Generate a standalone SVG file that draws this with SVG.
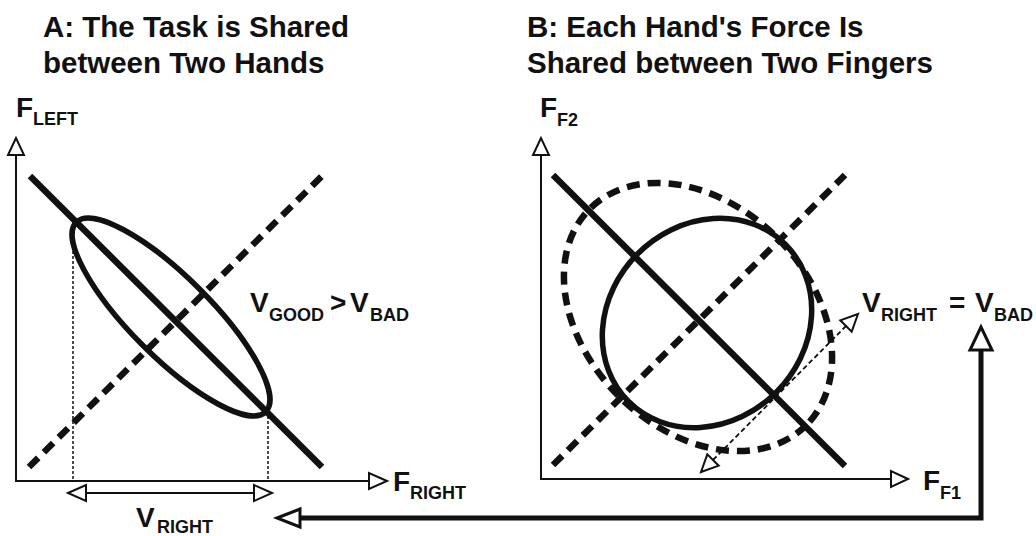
<svg xmlns="http://www.w3.org/2000/svg" width="1036" height="536" viewBox="0 0 1036 536">
<style>
text{font-family:"Liberation Sans",Arial,sans-serif;font-weight:bold;fill:#111}
.t{font-size:29.5px}
.b{font-size:28px}
.s{font-size:18px}
.ax{stroke:#111;stroke-width:2;fill:none}
.ah{fill:#fff;stroke:#111;stroke-width:2}
.sol{stroke:#111;stroke-width:6.5;fill:none}
.dsh{stroke:#111;stroke-width:6.5;fill:none;stroke-dasharray:13 8}
.ell{stroke:#111;stroke-width:5.5;fill:none}
.dot{stroke:#111;stroke-width:1.5;fill:none;stroke-dasharray:3 2}
.thin{stroke:#111;stroke-width:1.8;fill:none;stroke-dasharray:5 3}
.big{stroke:#111;stroke-width:5;fill:none}
.bh{fill:#fff;stroke:#111;stroke-width:3}
</style>
<rect width="1036" height="536" fill="#fff"/>
<g id="titles">
<text class="t" x="43" y="37">A: The Task is Shared</text>
<text class="t" x="43" y="73">between Two Hands</text>
<text class="t" x="527" y="37">B: Each Hand's Force Is</text>
<text class="t" x="527" y="73">Shared between Two Fingers</text>
</g>
<g id="panelA">
<path class="ax" d="M16 155 V481 H369"/>
<polygon class="ah" points="16,138 8,155 24,155"/>
<polygon class="ah" points="387,481 369,473 369,489"/>
<line class="sol" x1="30" y1="176" x2="322" y2="467"/>
<line class="dsh" x1="29" y1="467" x2="323" y2="175"/>
<ellipse class="ell" cx="171" cy="317" rx="134" ry="40" transform="rotate(45 171 317)"/>
<line class="dot" x1="73" y1="226" x2="73" y2="481"/>
<line class="dot" x1="268" y1="406" x2="268" y2="481"/>
<line class="ax" x1="84" y1="493" x2="255" y2="493" stroke-width="2.5"/>
<polygon class="ah" points="68,493 86,485 86,501"/>
<polygon class="ah" points="272,493 254,485 254,501"/>
<text class="b" x="16" y="117">F</text><text class="s" x="33" y="125">LEFT</text>
<text class="b" x="393" y="491">F</text><text class="s" x="410" y="499">RIGHT</text>
<text class="b" x="250" y="312">V</text><text class="s" x="269" y="321">GOOD</text>
<text class="b" x="330" y="312">&gt;</text>
<text class="b" x="350" y="312">V</text><text class="s" x="370" y="321">BAD</text>
<text class="b" x="136" y="527">V</text><text class="s" x="157" y="533">RIGHT</text>
</g>
<g id="panelB">
<path class="ax" d="M541 155 V479 H891"/>
<polygon class="ah" points="541,138 533,155 549,155"/>
<polygon class="ah" points="908,479 891,471 891,487"/>
<line class="sol" x1="553" y1="175" x2="845" y2="466"/>
<line class="dsh" x1="553" y1="465" x2="845" y2="175"/>
<ellipse class="ell" cx="707" cy="323" rx="111" ry="98" transform="rotate(-45 707 323)"/>
<ellipse class="dsh" cx="698" cy="317" rx="153" ry="112" transform="rotate(45 698 317)"/>
<line class="thin" x1="713" y1="460" x2="846" y2="326"/>
<polygon class="ah" points="701,472 707.3,454.3 718.7,465.7" stroke-width="1.8"/>
<polygon class="ah" points="858,314 840.3,320.3 851.7,331.7" stroke-width="1.8"/>
<text class="b" x="540" y="117">F</text><text class="s" x="557" y="126">F2</text>
<text class="b" x="923" y="490">F</text><text class="s" x="940" y="499">F1</text>
<text class="b" x="862" y="312">V</text><text class="s" x="881" y="321">RIGHT</text>
<text class="b" x="949" y="312">=</text>
<text class="b" x="975" y="312">V</text><text class="s" x="994" y="321">BAD</text>
</g>
<g id="connectors">
<path class="big" d="M300 518 H981 V350"/>
<polygon class="bh" points="277,518 300,509 300,527"/>
<polygon class="bh" points="981,327 970,350 992,350"/>
</g>
</svg>
